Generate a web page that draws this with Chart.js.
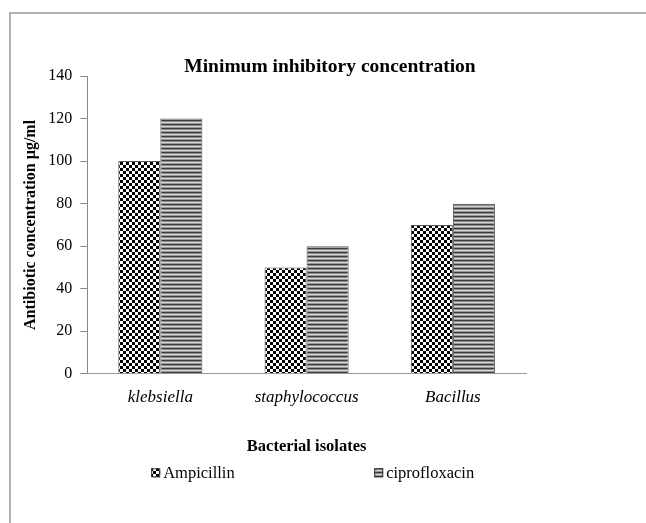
<!DOCTYPE html>
<html>
<head>
<meta charset="utf-8">
<script src="https://cdn.jsdelivr.net/npm/chart.js@4.4.1/dist/chart.umd.min.js"></script>
<style>
  html, body { margin: 0; padding: 0; background: #fff; }
  #wrap { width: 646px; height: 523px; position: relative; }
</style>
</head>
<body>
<div id="wrap"><canvas id="c" width="646" height="523"></canvas></div>
<script>
// Bacterial isolates and the MIC of each antibiotic (µg/ml)
const isolates = ['klebsiella', 'staphylococcus', 'Bacillus'];
const ampicillin = [100, 50, 70];
const ciprofloxacin = [120, 60, 80];
const yTicks = [0, 20, 40, 60, 80, 100, 120, 140];

const chartTitle = 'Minimum inhibitory concentration';
const xTitle = 'Bacterial isolates';
const yTitle = 'Antibiotic concentration µg/ml';

const SERIF = '"Liberation Serif", "Times New Roman", serif';

// Checkerboard fill
function checkerPattern() {
  const c = document.createElement('canvas');
  c.width = 6; c.height = 6;
  const g = c.getContext('2d');
  g.fillStyle = '#ffffff'; g.fillRect(0, 0, 6, 6);
  g.fillStyle = '#000000';
  g.fillRect(0, 0, 3, 3);
  g.fillRect(3, 3, 3, 3);
  return g.createPattern(c, 'repeat');
}
// Horizontal stripe fill
function stripePattern() {
  const c = document.createElement('canvas');
  c.width = 4; c.height = 4;
  const g = c.getContext('2d');
  const rows = ['#3c3c3c', '#8c8c8c', '#d4d4d4', '#9a9a9a'];
  rows.forEach((col, i) => { g.fillStyle = col; g.fillRect(0, i, 4, 1); });
  return g.createPattern(c, 'repeat');
}

const checker = checkerPattern();
const stripes = stripePattern();

// Outer frame, heading and legend drawn around the plot
const decor = {
  id: 'decor',
  beforeDraw(chart) {
    const ctx = chart.ctx;
    ctx.save();
    ctx.fillStyle = '#ffffff';
    ctx.fillRect(0, 0, chart.width, chart.height);
    ctx.strokeStyle = '#b0b0b0';
    ctx.lineWidth = 2;
    ctx.beginPath();
    ctx.moveTo(10, chart.height + 5);
    ctx.lineTo(10, 13);
    ctx.lineTo(chart.width + 5, 13);
    ctx.stroke();
    ctx.restore();
  },
  afterDraw(chart) {
    const ctx = chart.ctx;
    const area = chart.chartArea;
    ctx.save();
    ctx.fillStyle = '#000';
    ctx.font = 'bold 19.5px ' + SERIF;
    ctx.textAlign = 'center';
    ctx.textBaseline = 'middle';
    ctx.fillText(chartTitle, 330, area.top - 9);

    // legend
    ctx.font = '16.5px ' + SERIF;
    ctx.textAlign = 'left';
    const ly = area.bottom + 99;
    const xs = [area.left + 64, area.left + 287];
    chart.data.datasets.forEach((ds, i) => {
      const bx = xs[i];
      ctx.fillStyle = ds.backgroundColor;
      ctx.fillRect(bx, ly - 4.5, 9, 9);
      ctx.strokeStyle = '#333';
      ctx.lineWidth = 1;
      ctx.strokeRect(bx + 0.5, ly - 4, 8, 8);
      ctx.fillStyle = '#000';
      ctx.fillText(ds.label, bx + 12, ly + 1);
    });
    ctx.restore();
  }
};

new Chart(document.getElementById('c'), {
  type: 'bar',
  data: {
    labels: isolates,
    datasets: [
      { label: 'Ampicillin', data: ampicillin, backgroundColor: checker, borderColor: '#555', borderWidth: 1 },
      { label: 'ciprofloxacin', data: ciprofloxacin, backgroundColor: stripes, borderColor: '#555', borderWidth: 1 }
    ]
  },
  options: {
    responsive: false,
    animation: false,
    layout: { padding: { top: 76, right: 120, bottom: 66, left: 0 } },
    datasets: { bar: { categoryPercentage: 0.575, barPercentage: 1.0 } },
    plugins: {
      legend: { display: false },
      title: { display: false },
      tooltip: { enabled: false }
    },
    scales: {
      x: {
        grid: { display: false, drawTicks: false },
        border: { display: true, color: '#9a9a9a', width: 1 },
        ticks: { color: '#000', padding: 14, font: { family: SERIF, size: 17, style: 'italic' } },
        title: { display: true, text: xTitle, color: '#000', padding: { top: 15, bottom: 0 },
                 font: { family: SERIF, size: 16.5, weight: 'bold' } }
      },
      y: {
        min: 0, max: 140,
        afterBuildTicks(scale) { scale.ticks = yTicks.map(v => ({ value: v })); },
        grid: { drawOnChartArea: false, drawTicks: true, tickLength: 7, color: '#8a8a8a' },
        border: { display: true, color: '#8a8a8a', width: 1 },
        ticks: { color: '#000', padding: 8, font: { family: SERIF, size: 16 } },
        title: { display: true, text: yTitle, color: '#000', padding: { top: 21, bottom: 0 },
                 font: { family: SERIF, size: 16, weight: 'bold' } }
      }
    }
  },
  plugins: [decor]
});
</script>
</body>
</html>
